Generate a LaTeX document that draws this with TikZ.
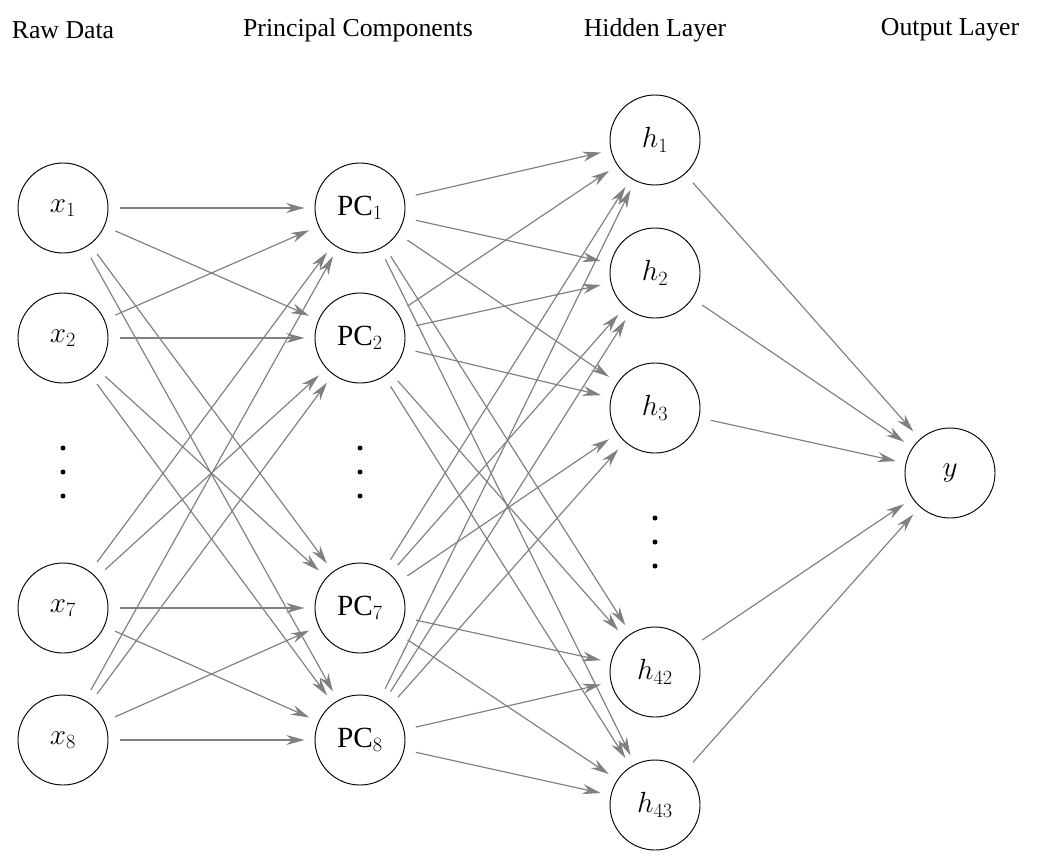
\documentclass[tikz,border=0pt]{standalone}
\usepackage{fontspec}
\setmainfont{Liberation Serif}
\usetikzlibrary{arrows.meta}
\begin{document}
\begin{tikzpicture}[x=0.03cm,y=-0.03cm,
  neuron/.style={circle,draw,thick,minimum size=2.7cm,inner sep=0pt,font=\fontsize{25}{30}\selectfont},
  title/.style={font=\fontsize{22}{26}\selectfont},
  conn/.style={draw=gray,line width=1pt,-{Stealth[length=0.55cm,width=0.3cm]},shorten <=0.35cm,shorten >=0.3cm},
  dot/.style={circle,fill,inner sep=0pt,minimum size=0.15cm}]
\useasboundingbox (0,0) rectangle (1039,864);
\node[title] (t1) at (63,30) {Raw Data};
\node[title] (t2) at (358,30) {Principal Components};
\node[title] (t3) at (655,30) {Hidden Layer};
\node[title] (t4) at (950,30) {Output Layer};
\foreach \n/\y/\l in {1/208/1,2/338/2,7/608/7,8/740/8}{
  \node[neuron] (x\n) at (63,\y) {$x_{\l}$};
  \node[neuron] (p\n) at (360,\y) {PC$_{\l}$};
}
\foreach \n/\y in {1/140,2/273,3/408,42/672,43/805}{
  \node[neuron] (h\n) at (655,\y) {$h_{\n}$};
}
\node[neuron] (y) at (950,473) {$y$};
\foreach \c/\x/\y in {a/63/448,b/63/472,c/63/496,d/360/448,e/360/472,f/360/496,g/655/518,h/655/542,i/655/566}{
  \node[dot] (d\c) at (\x,\y) {};
}
\foreach \a in {1,2,7,8}{\foreach \b in {1,2,7,8}{\draw[conn] (x\a) -- (p\b);}}
\foreach \a in {1,2,7,8}{\foreach \b in {1,2,3,42,43}{\draw[conn] (p\a) -- (h\b);}}
\foreach \b in {1,2,3,42,43}{\draw[conn] (h\b) -- (y);}
\end{tikzpicture}
\end{document}
